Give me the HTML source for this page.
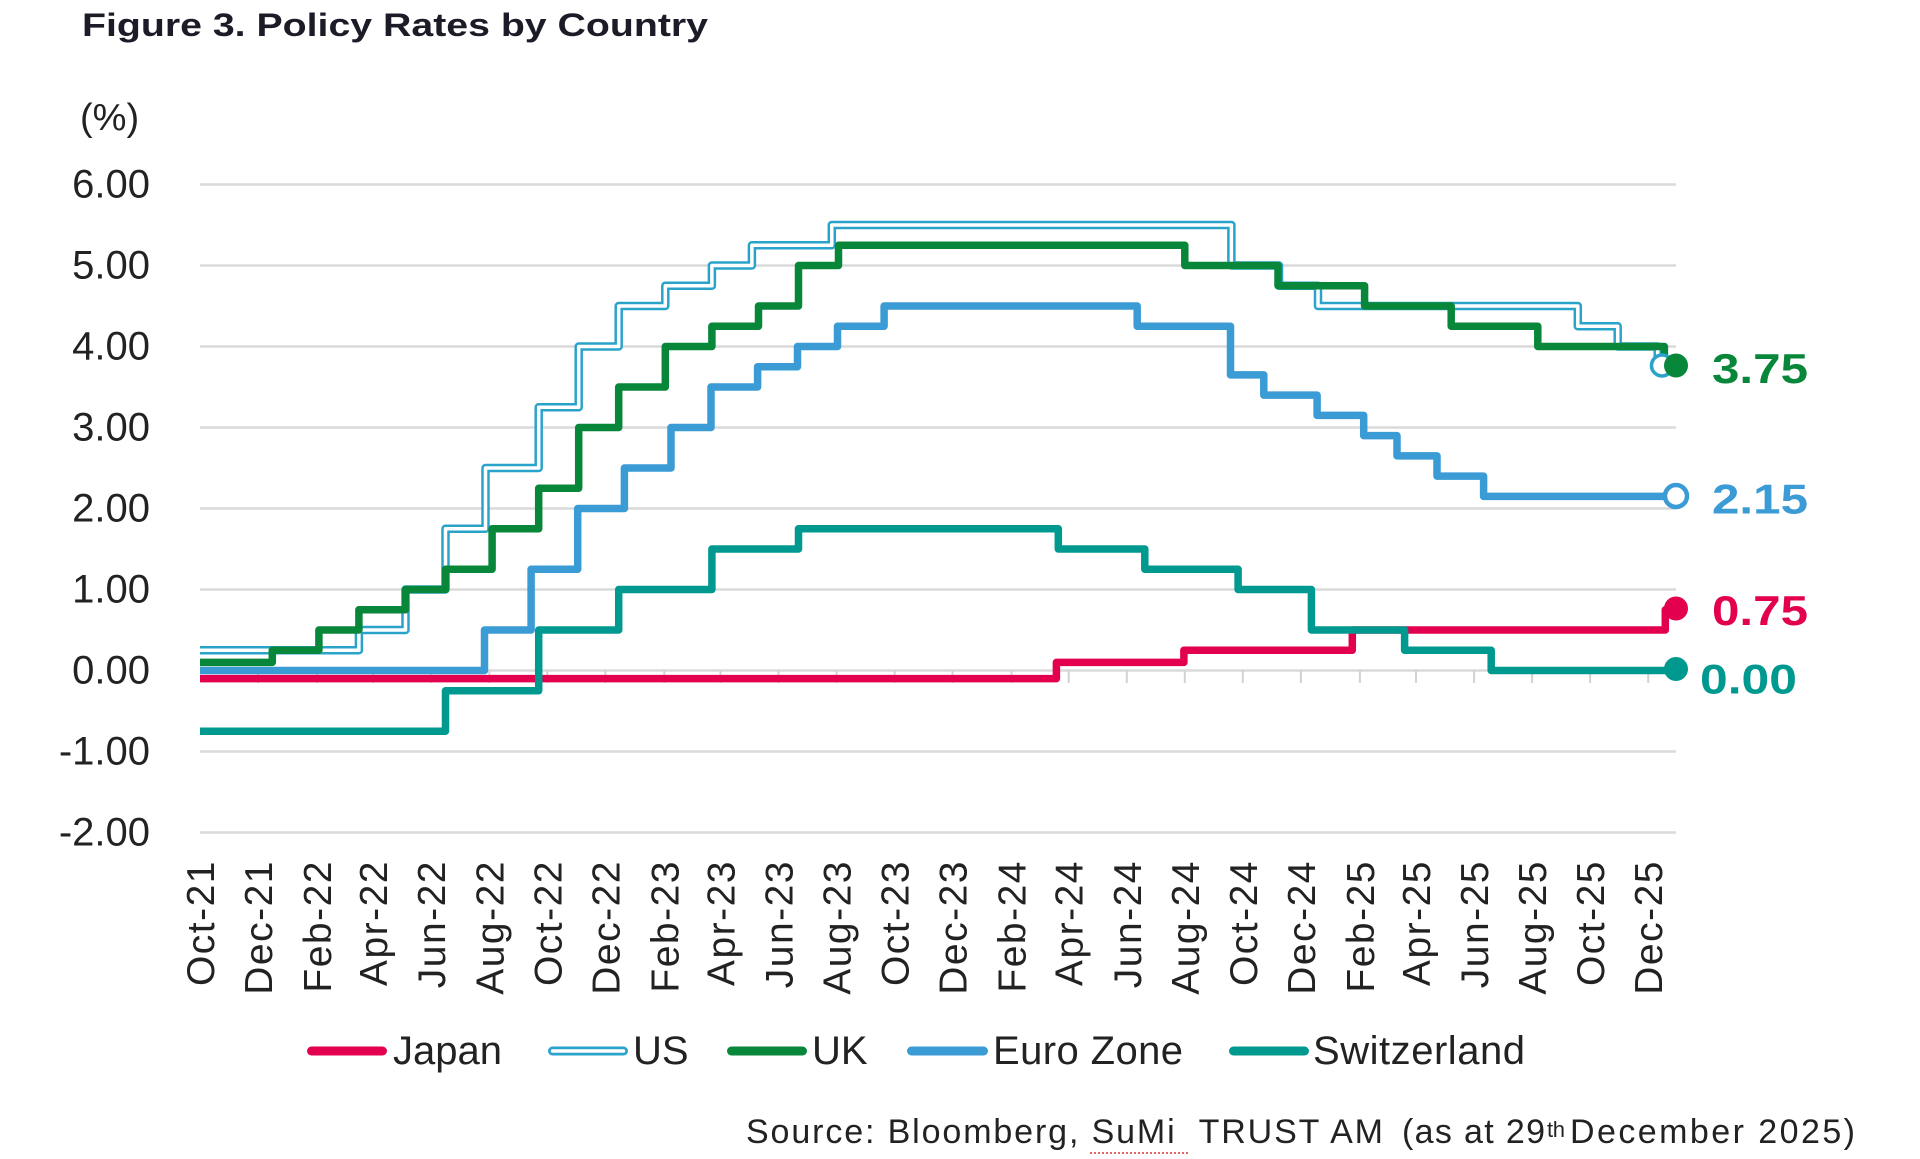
<!DOCTYPE html>
<html>
<head>
<meta charset="utf-8">
<style>
  html, body { margin: 0; padding: 0; background: #ffffff; }
  body { width: 1920px; height: 1159px; overflow: hidden; }
  svg { display: block; }
  text { font-family: "Liberation Sans", sans-serif; }
</style>
</head>
<body>
<svg width="1920" height="1159" viewBox="0 0 1920 1159" xmlns="http://www.w3.org/2000/svg">
  <rect x="0" y="0" width="1920" height="1159" fill="#ffffff"/>

  <!-- Title -->
  <text x="82" y="36" font-size="32" font-weight="bold" fill="#1c1c28" textLength="626" lengthAdjust="spacingAndGlyphs">Figure 3. Policy Rates by Country</text>

  <!-- Unit -->
  <text x="80" y="130" font-size="38" fill="#222">(%)</text>

  <!-- Gridlines -->
  <g stroke="#dadada" stroke-width="2.5">
    <line x1="200" y1="184.5" x2="1676" y2="184.5"/>
    <line x1="200" y1="265.5" x2="1676" y2="265.5"/>
    <line x1="200" y1="346.5" x2="1676" y2="346.5"/>
    <line x1="200" y1="427.5" x2="1676" y2="427.5"/>
    <line x1="200" y1="508.5" x2="1676" y2="508.5"/>
    <line x1="200" y1="589.5" x2="1676" y2="589.5"/>
    <line x1="200" y1="670.5" x2="1676" y2="670.5"/>
    <line x1="200" y1="751.5" x2="1676" y2="751.5"/>
    <line x1="200" y1="832.5" x2="1676" y2="832.5"/>
  </g>

  <!-- Tick marks on zero axis -->
  <g stroke="#d2d2d2" stroke-width="2">
    <line x1="258" y1="670.5" x2="258" y2="683"/>
    <line x1="317" y1="670.5" x2="317" y2="683"/>
    <line x1="373.2" y1="670.5" x2="373.2" y2="683"/>
    <line x1="431.2" y1="670.5" x2="431.2" y2="683"/>
    <line x1="489.3" y1="670.5" x2="489.3" y2="683"/>
    <line x1="547.3" y1="670.5" x2="547.3" y2="683"/>
    <line x1="605.3" y1="670.5" x2="605.3" y2="683"/>
    <line x1="664.3" y1="670.5" x2="664.3" y2="683"/>
    <line x1="720.5" y1="670.5" x2="720.5" y2="683"/>
    <line x1="778.5" y1="670.5" x2="778.5" y2="683"/>
    <line x1="836.6" y1="670.5" x2="836.6" y2="683"/>
    <line x1="894.6" y1="670.5" x2="894.6" y2="683"/>
    <line x1="952.6" y1="670.5" x2="952.6" y2="683"/>
    <line x1="1011.6" y1="670.5" x2="1011.6" y2="683"/>
    <line x1="1068.7" y1="670.5" x2="1068.7" y2="683"/>
    <line x1="1126.8" y1="670.5" x2="1126.8" y2="683"/>
    <line x1="1184.8" y1="670.5" x2="1184.8" y2="683"/>
    <line x1="1242.8" y1="670.5" x2="1242.8" y2="683"/>
    <line x1="1300.9" y1="670.5" x2="1300.9" y2="683"/>
    <line x1="1359.9" y1="670.5" x2="1359.9" y2="683"/>
    <line x1="1416" y1="670.5" x2="1416" y2="683"/>
    <line x1="1474.1" y1="670.5" x2="1474.1" y2="683"/>
    <line x1="1532.1" y1="670.5" x2="1532.1" y2="683"/>
    <line x1="1590.1" y1="670.5" x2="1590.1" y2="683"/>
    <line x1="1648.2" y1="670.5" x2="1648.2" y2="683"/>
  </g>

  <!-- Y axis labels -->
  <g font-size="40" fill="#222" text-anchor="end">
    <text x="150" y="197.5">6.00</text>
    <text x="150" y="278.5">5.00</text>
    <text x="150" y="359.5">4.00</text>
    <text x="150" y="440.5">3.00</text>
    <text x="150" y="521.5">2.00</text>
    <text x="150" y="602.5">1.00</text>
    <text x="150" y="683.5">0.00</text>
    <text x="150" y="764.5">-1.00</text>
    <text x="150" y="845.5">-2.00</text>
  </g>

  <!-- X axis labels -->
  <g font-size="39" fill="#222" text-anchor="end" letter-spacing="1.5">
    <text transform="translate(214,860) rotate(-90)">Oct-21</text>
    <text transform="translate(272,860) rotate(-90)">Dec-21</text>
    <text transform="translate(331,860) rotate(-90)">Feb-22</text>
    <text transform="translate(387.2,860) rotate(-90)">Apr-22</text>
    <text transform="translate(445.2,860) rotate(-90)">Jun-22</text>
    <text transform="translate(503.3,860) rotate(-90)">Aug-22</text>
    <text transform="translate(561.3,860) rotate(-90)">Oct-22</text>
    <text transform="translate(619.3,860) rotate(-90)">Dec-22</text>
    <text transform="translate(678.3,860) rotate(-90)">Feb-23</text>
    <text transform="translate(734.5,860) rotate(-90)">Apr-23</text>
    <text transform="translate(792.5,860) rotate(-90)">Jun-23</text>
    <text transform="translate(850.6,860) rotate(-90)">Aug-23</text>
    <text transform="translate(908.6,860) rotate(-90)">Oct-23</text>
    <text transform="translate(966.6,860) rotate(-90)">Dec-23</text>
    <text transform="translate(1025.6,860) rotate(-90)">Feb-24</text>
    <text transform="translate(1082.7,860) rotate(-90)">Apr-24</text>
    <text transform="translate(1140.8,860) rotate(-90)">Jun-24</text>
    <text transform="translate(1198.8,860) rotate(-90)">Aug-24</text>
    <text transform="translate(1256.8,860) rotate(-90)">Oct-24</text>
    <text transform="translate(1314.9,860) rotate(-90)">Dec-24</text>
    <text transform="translate(1373.9,860) rotate(-90)">Feb-25</text>
    <text transform="translate(1430,860) rotate(-90)">Apr-25</text>
    <text transform="translate(1488.1,860) rotate(-90)">Jun-25</text>
    <text transform="translate(1546.1,860) rotate(-90)">Aug-25</text>
    <text transform="translate(1604.1,860) rotate(-90)">Oct-25</text>
    <text transform="translate(1662.2,860) rotate(-90)">Dec-25</text>
  </g>

  <!-- Series -->
  <g fill="none" stroke-width="7.5" stroke-linejoin="round" stroke-linecap="butt">
    <!-- Japan -->
    <path stroke="#e2004f" d="M200,678.6 H1056.4 V662.4 H1183.9 V650.25 H1352.3 V630 H1665.3 V609.75 H1676"/>
    <!-- US (double line) -->
    <path stroke="#2aa3cb" stroke-width="8.5" d="M200,650.25 H358.9 V630 H405.5 V589.5 H445.5 V528.75 H485.5 V468 H538.7 V407.25 H578.7 V346.5 H618.7 V306 H665.3 V285.75 H711.9 V265.5 H751.9 V245.25 H831.8 V225 H1231.4 V265.5 H1279 V285.75 H1318 V306 H1577.8 V326.25 H1617.7 V346.5 H1657.7 V366.75 H1662"/>
    <path stroke="#ffffff" stroke-width="3.5" d="M200,650.25 H358.9 V630 H405.5 V589.5 H445.5 V528.75 H485.5 V468 H538.7 V407.25 H578.7 V346.5 H618.7 V306 H665.3 V285.75 H711.9 V265.5 H751.9 V245.25 H831.8 V225 H1231.4 V265.5 H1279 V285.75 H1318 V306 H1577.8 V326.25 H1617.7 V346.5 H1657.7 V366.75 H1662"/>
    <!-- UK -->
    <path stroke="#08873a" d="M200,662.4 H272.3 V650.25 H318.9 V630 H358.9 V609.75 H405.5 V589.5 H445.5 V569.25 H492.1 V528.75 H538.7 V488.25 H578.7 V427.5 H618.7 V387 H665.3 V346.5 H711.9 V326.25 H758.5 V306 H798.5 V265.5 H838.5 V245.25 H1184.8 V265.5 H1278 V285.75 H1364.6 V306 H1451.2 V326.25 H1537.8 V346.5 H1664.4 V366.75 H1676"/>
    <!-- Euro Zone -->
    <path stroke="#3a9bd5" d="M200,670.5 H484.5 V630 H531.1 V569.25 H577.7 V508.5 H624.4 V468 H671 V427.5 H711 V387 H757.6 V366.75 H797.5 V346.5 H837.5 V326.25 H884.1 V306 H1137.2 V326.25 H1230.5 V374.85 H1263.8 V395.1 H1317.1 V415.35 H1363.7 V435.6 H1397 V455.85 H1437 V476.1 H1483.6 V496.35 H1676"/>
    <!-- Switzerland -->
    <path stroke="#00998f" d="M200,731.25 H445.5 V690.75 H538.7 V630 H618.7 V589.5 H711.9 V549 H798.5 V528.75 H1058.3 V549 H1144.8 V569.25 H1238.1 V589.5 H1311.4 V630 H1404.6 V650.25 H1491.2 V670.5 H1676"/>
  </g>

  <!-- End markers -->
  <circle cx="1662" cy="365.5" r="10.5" fill="#ffffff" stroke="#2aa3cb" stroke-width="3.5"/>
  <circle cx="1676" cy="365.5" r="12" fill="#08873a"/>
  <circle cx="1676" cy="496" r="11" fill="#ffffff" stroke="#3a9bd5" stroke-width="4.5"/>
  <circle cx="1676" cy="608.5" r="12" fill="#e2004f"/>
  <circle cx="1676" cy="669" r="12" fill="#00998f"/>

  <!-- End labels -->
  <g font-size="42" font-weight="bold">
    <text x="1712" y="383" fill="#08873a" textLength="96" lengthAdjust="spacingAndGlyphs">3.75</text>
    <text x="1712" y="513.5" fill="#3a9bd5" textLength="96" lengthAdjust="spacingAndGlyphs">2.15</text>
    <text x="1712" y="625" fill="#e2004f" textLength="96" lengthAdjust="spacingAndGlyphs">0.75</text>
    <text x="1700" y="693.5" fill="#00998f" textLength="97" lengthAdjust="spacingAndGlyphs">0.00</text>
  </g>

  <!-- Legend -->
  <g stroke-width="9" stroke-linecap="round" fill="none">
    <line x1="311.5" y1="1051" x2="382.5" y2="1051" stroke="#e2004f"/>
    <line x1="552.5" y1="1051" x2="623.5" y2="1051" stroke="#2aa3cb"/>
    <line x1="552.5" y1="1051" x2="623.5" y2="1051" stroke="#ffffff" stroke-width="3.5"/>
    <line x1="731.5" y1="1051" x2="802.5" y2="1051" stroke="#08873a"/>
    <line x1="911.5" y1="1051" x2="983.5" y2="1051" stroke="#3a9bd5"/>
    <line x1="1233.5" y1="1051" x2="1304.5" y2="1051" stroke="#00998f"/>
  </g>
  <g font-size="40" fill="#222">
    <text x="393" y="1064">Japan</text>
    <text x="633" y="1064">US</text>
    <text x="812" y="1064">UK</text>
    <text x="993" y="1064" textLength="190" lengthAdjust="spacing">Euro Zone</text>
    <text x="1313" y="1064" textLength="212" lengthAdjust="spacing">Switzerland</text>
  </g>

  <!-- Source -->
  <g font-size="34" fill="#222">
    <text x="746" y="1143" textLength="637" lengthAdjust="spacing" xml:space="preserve">Source: Bloomberg, SuMi  TRUST AM</text>
    <text x="1402" y="1143" textLength="143" lengthAdjust="spacing">(as at 29</text>
    <text x="1547" y="1137" font-size="22" textLength="18" lengthAdjust="spacing">th</text>
    <text x="1570" y="1143" textLength="285" lengthAdjust="spacing">December 2025)</text>
  </g>
  <line x1="1090" y1="1153" x2="1188" y2="1153" stroke="#e03030" stroke-width="1.5" stroke-dasharray="2 2"/>
</svg>
</body>
</html>
